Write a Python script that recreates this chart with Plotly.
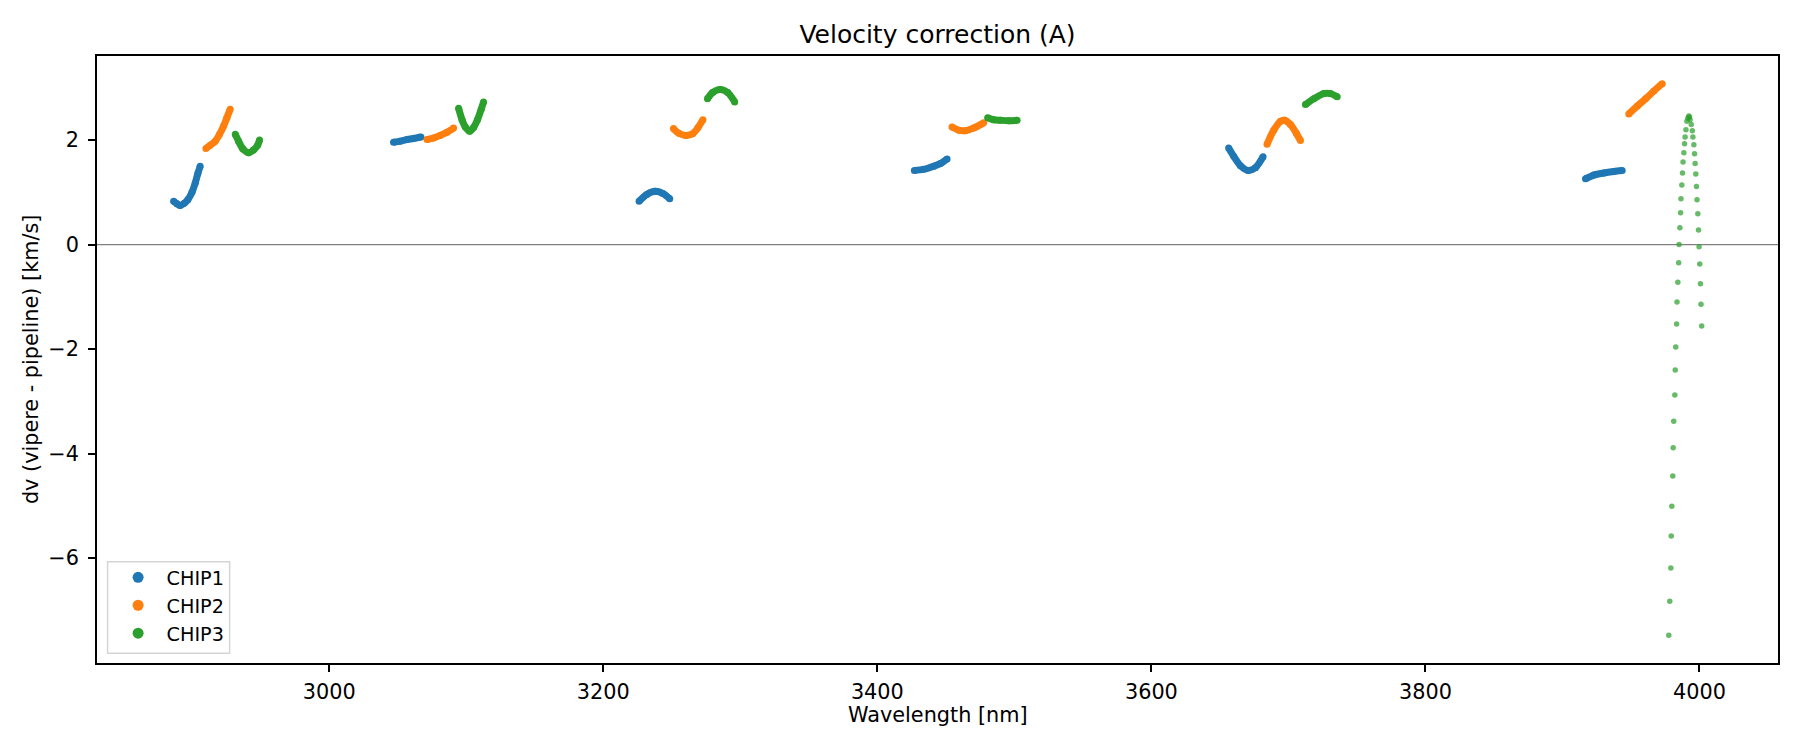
import plotly.graph_objects as go

# ---------------- data ----------------
# CHIP1 (blue) segments, separated by None
CHIP1_WL = [2886.4, 2888.8, 2891.2, 2894.2, 2896.8, 2899.8, 2902.2, 2904.1, 2905.8, None,
            3046.9, 3051.8, 3056.7, 3061.5, 3066.9, None,
            3226.1, 3231.7, 3237.8, 3243.4, 3248.5, None,
            3427.0, 3433.8, 3441.1, 3446.0, 3450.9, None,
            3656.4, 3660.1, 3665.0, 3670.6, 3675.9, 3681.5, None,
            3916.8, 3922.9, 3930.2, 3937.5, 3943.6]
CHIP1_DV = [0.83, 0.78, 0.75, 0.79, 0.86, 1.00, 1.18, 1.36, 1.50, None,
            1.96, 1.98, 2.01, 2.03, 2.06, None,
            0.83, 0.96, 1.02, 0.98, 0.875, None,
            1.42, 1.44, 1.50, 1.55, 1.64, None,
            1.85, 1.69, 1.51, 1.42, 1.47, 1.68, None,
            1.26, 1.33, 1.37, 1.40, 1.42]

# CHIP2 (orange) segments
CHIP2_WL = [2910.0, 2913.1, 2916.8, 2919.9, 2922.9, 2925.3, 2927.7, None,
            3071.3, 3076.2, 3081.0, 3085.9, 3090.7, None,
            3251.2, 3255.1, 3260.2, 3265.2, 3269.1, 3272.7, None,
            3454.5, 3459.4, 3464.2, 3470.3, 3477.6, None,
            3684.4, 3689.3, 3694.2, 3697.1, 3701.5, 3705.8, 3708.8, None,
            3948.4, 3954.5, 3960.6, 3966.7, 3972.8]
CHIP2_DV = [1.84, 1.90, 1.98, 2.11, 2.27, 2.43, 2.59, None,
            2.01, 2.04, 2.09, 2.15, 2.23, None,
            2.22, 2.13, 2.09, 2.12, 2.24, 2.39, None,
            2.25, 2.19, 2.18, 2.23, 2.33, None,
            1.92, 2.19, 2.36, 2.38, 2.30, 2.13, 1.99, None,
            2.50, 2.65, 2.79, 2.94, 3.08]

# CHIP3 (green) dense segments
CHIP3_WL = [2931.4, 2933.8, 2937.0, 2941.1, 2944.7, 2947.7, 2949.1, None,
            3094.4, 3096.9, 3099.3, 3102.4, 3105.3, 3108.2, 3110.9, 3112.6, None,
            3276.0, 3279.7, 3285.3, 3290.8, 3295.9, None,
            3480.5, 3484.9, 3489.8, 3495.8, 3502.0, None,
            3712.4, 3718.5, 3725.8, 3730.7, 3735.6]
CHIP3_DV = [2.11, 1.98, 1.83, 1.76, 1.81, 1.90, 2.00, None,
            2.61, 2.39, 2.25, 2.17, 2.24, 2.39, 2.59, 2.73, None,
            2.79, 2.91, 2.97, 2.91, 2.73, None,
            2.43, 2.39, 2.38, 2.37, 2.38, None,
            2.68, 2.79, 2.89, 2.89, 2.83]

# CHIP3 sparse points of the last order (spike near 4000 nm)
CHIP3_TAIL_WL = [3977.6, 3978.3, 3979.1, 3979.4, 3979.8, 3980.5, 3980.8, 3981.2, 3982.0, 3982.3,
                 3982.7, 3983.3, 3983.6, 3984.2, 3984.8, 3985.1, 3985.7, 3986.2, 3986.5, 3987.1,
                 3987.6, 3988.0, 3988.6, 3989.1, 3989.5, 3990.1, 3990.8, 3991.5, 3992.2,
                 3992.7, 3993.1, 3994.0, 3994.8, 3995.2, 3995.9, 3996.4, 3996.8, 3997.3, 3997.8,
                 3998.2, 3998.8, 3999.3, 3999.7, 4000.2, 4000.7, 4001.1, 4001.6]
CHIP3_TAIL_DV = [-7.48, -6.83, -6.19, -5.58, -5.01, -4.43, -3.89, -3.38, -2.88, -2.40,
                 -1.96, -1.52, -1.10, -0.72, -0.35, 0.00, 0.32, 0.61, 0.875, 1.14,
                 1.37, 1.58, 1.76, 1.93, 2.06, 2.20, 2.36, 2.42, 2.46,
                 2.44, 2.39, 2.30, 2.18, 2.06, 1.91, 1.74, 1.55, 1.35, 1.11,
                 0.86, 0.59, 0.28, -0.04, -0.37, -0.75, -1.14, -1.56]

CHIPS = ["CHIP1", "CHIP2", "CHIP3"]
COLORS = ["#1f77b4", "#ff7f0e", "#2ca02c"]

X_TICKS = [3000, 3200, 3400, 3600, 3800, 4000]
Y_TICKS = [-6, -4, -2, 0, 2]

TITLE = "Velocity correction (A)"
X_LABEL = "Wavelength [nm]"
Y_LABEL = "dv (vipere - pipeline) [km/s]"

# ---------------- figure ----------------
FONT = "DejaVu Sans"
fig = go.Figure()

series = [(CHIP1_WL, CHIP1_DV), (CHIP2_WL, CHIP2_DV), (CHIP3_WL, CHIP3_DV)]
for name, color, (wl, dv) in zip(CHIPS, COLORS, series):
    fig.add_trace(go.Scatter(
        x=wl, y=dv, mode="lines+markers", name=name, legendgroup=name,
        showlegend=False, connectgaps=False,
        line=dict(color=color, width=7, shape="spline", smoothing=0.8),
        marker=dict(color=color, size=7, line=dict(width=0)),
        hoverinfo="x+y",
    ))

fig.add_trace(go.Scatter(
    x=CHIP3_TAIL_WL, y=CHIP3_TAIL_DV, mode="markers", name="CHIP3",
    legendgroup="CHIP3", showlegend=False,
    marker=dict(color=COLORS[2], size=5.5, opacity=0.72, line=dict(width=0)),
))

# legend entries (dots only)
for name, color in zip(CHIPS, COLORS):
    fig.add_trace(go.Scatter(
        x=[None], y=[None], mode="markers", name=name, legendgroup=name,
        marker=dict(color=color, size=11, line=dict(width=0)),
    ))

# zero reference line
fig.add_shape(type="line", xref="paper", x0=0, x1=1, yref="y", y0=0, y1=0,
              line=dict(color="#808080", width=1.1), layer="below")

# legend frame (matplotlib style box)
fig.add_shape(type="rect", xref="paper", yref="paper",
              x0=0.0063, x1=0.0789, y0=0.016, y1=0.1669,
              fillcolor="rgba(255,255,255,0.8)",
              line=dict(color="#d5d5d5", width=1.5), layer="above")

axis_common = dict(
    showline=True, linecolor="black", linewidth=1.6, mirror=True,
    ticks="outside", ticklen=7, tickwidth=1.6, tickcolor="black",
    showgrid=False, zeroline=False,
    tickfont=dict(family=FONT, size=20.8, color="black"),
)

fig.update_layout(
    width=1800, height=750,
    margin=dict(l=89, r=30, t=48, b=95, autoexpand=False),
    paper_bgcolor="white", plot_bgcolor="white",
    font=dict(family=FONT, size=20.8, color="black"),
    title=dict(text=TITLE, x=0.5, xref="paper", xanchor="center",
               y=0.9647, yref="container", yanchor="middle",
               font=dict(family=FONT, size=25, color="black")),
    xaxis=dict(range=[2830.5, 4057.3], tickvals=X_TICKS, ticklabelstandoff=2,
               **axis_common),
    yaxis=dict(range=[-8.01, 3.61], tickvals=Y_TICKS, ticklabelstandoff=5,
               **axis_common),
    legend=dict(x=0.0075, y=0.0176, xanchor="left", yanchor="bottom",
                bgcolor="rgba(0,0,0,0)", borderwidth=0,
                itemwidth=47, tracegroupgap=0,
                font=dict(family=FONT, size=19.2, color="black")),
    showlegend=True,
    annotations=[
        dict(text=X_LABEL, xref="paper", yref="paper", x=0.5, y=-0.085,
             xanchor="center", yanchor="middle", showarrow=False,
             font=dict(family=FONT, size=20.8, color="black")),
        dict(text=Y_LABEL, xref="paper", yref="paper", x=-0.0395, y=0.5,
             xanchor="center", yanchor="middle", textangle=-90, showarrow=False,
             font=dict(family=FONT, size=20.8, color="black")),
    ],
)

fig.write_html("out.html")
